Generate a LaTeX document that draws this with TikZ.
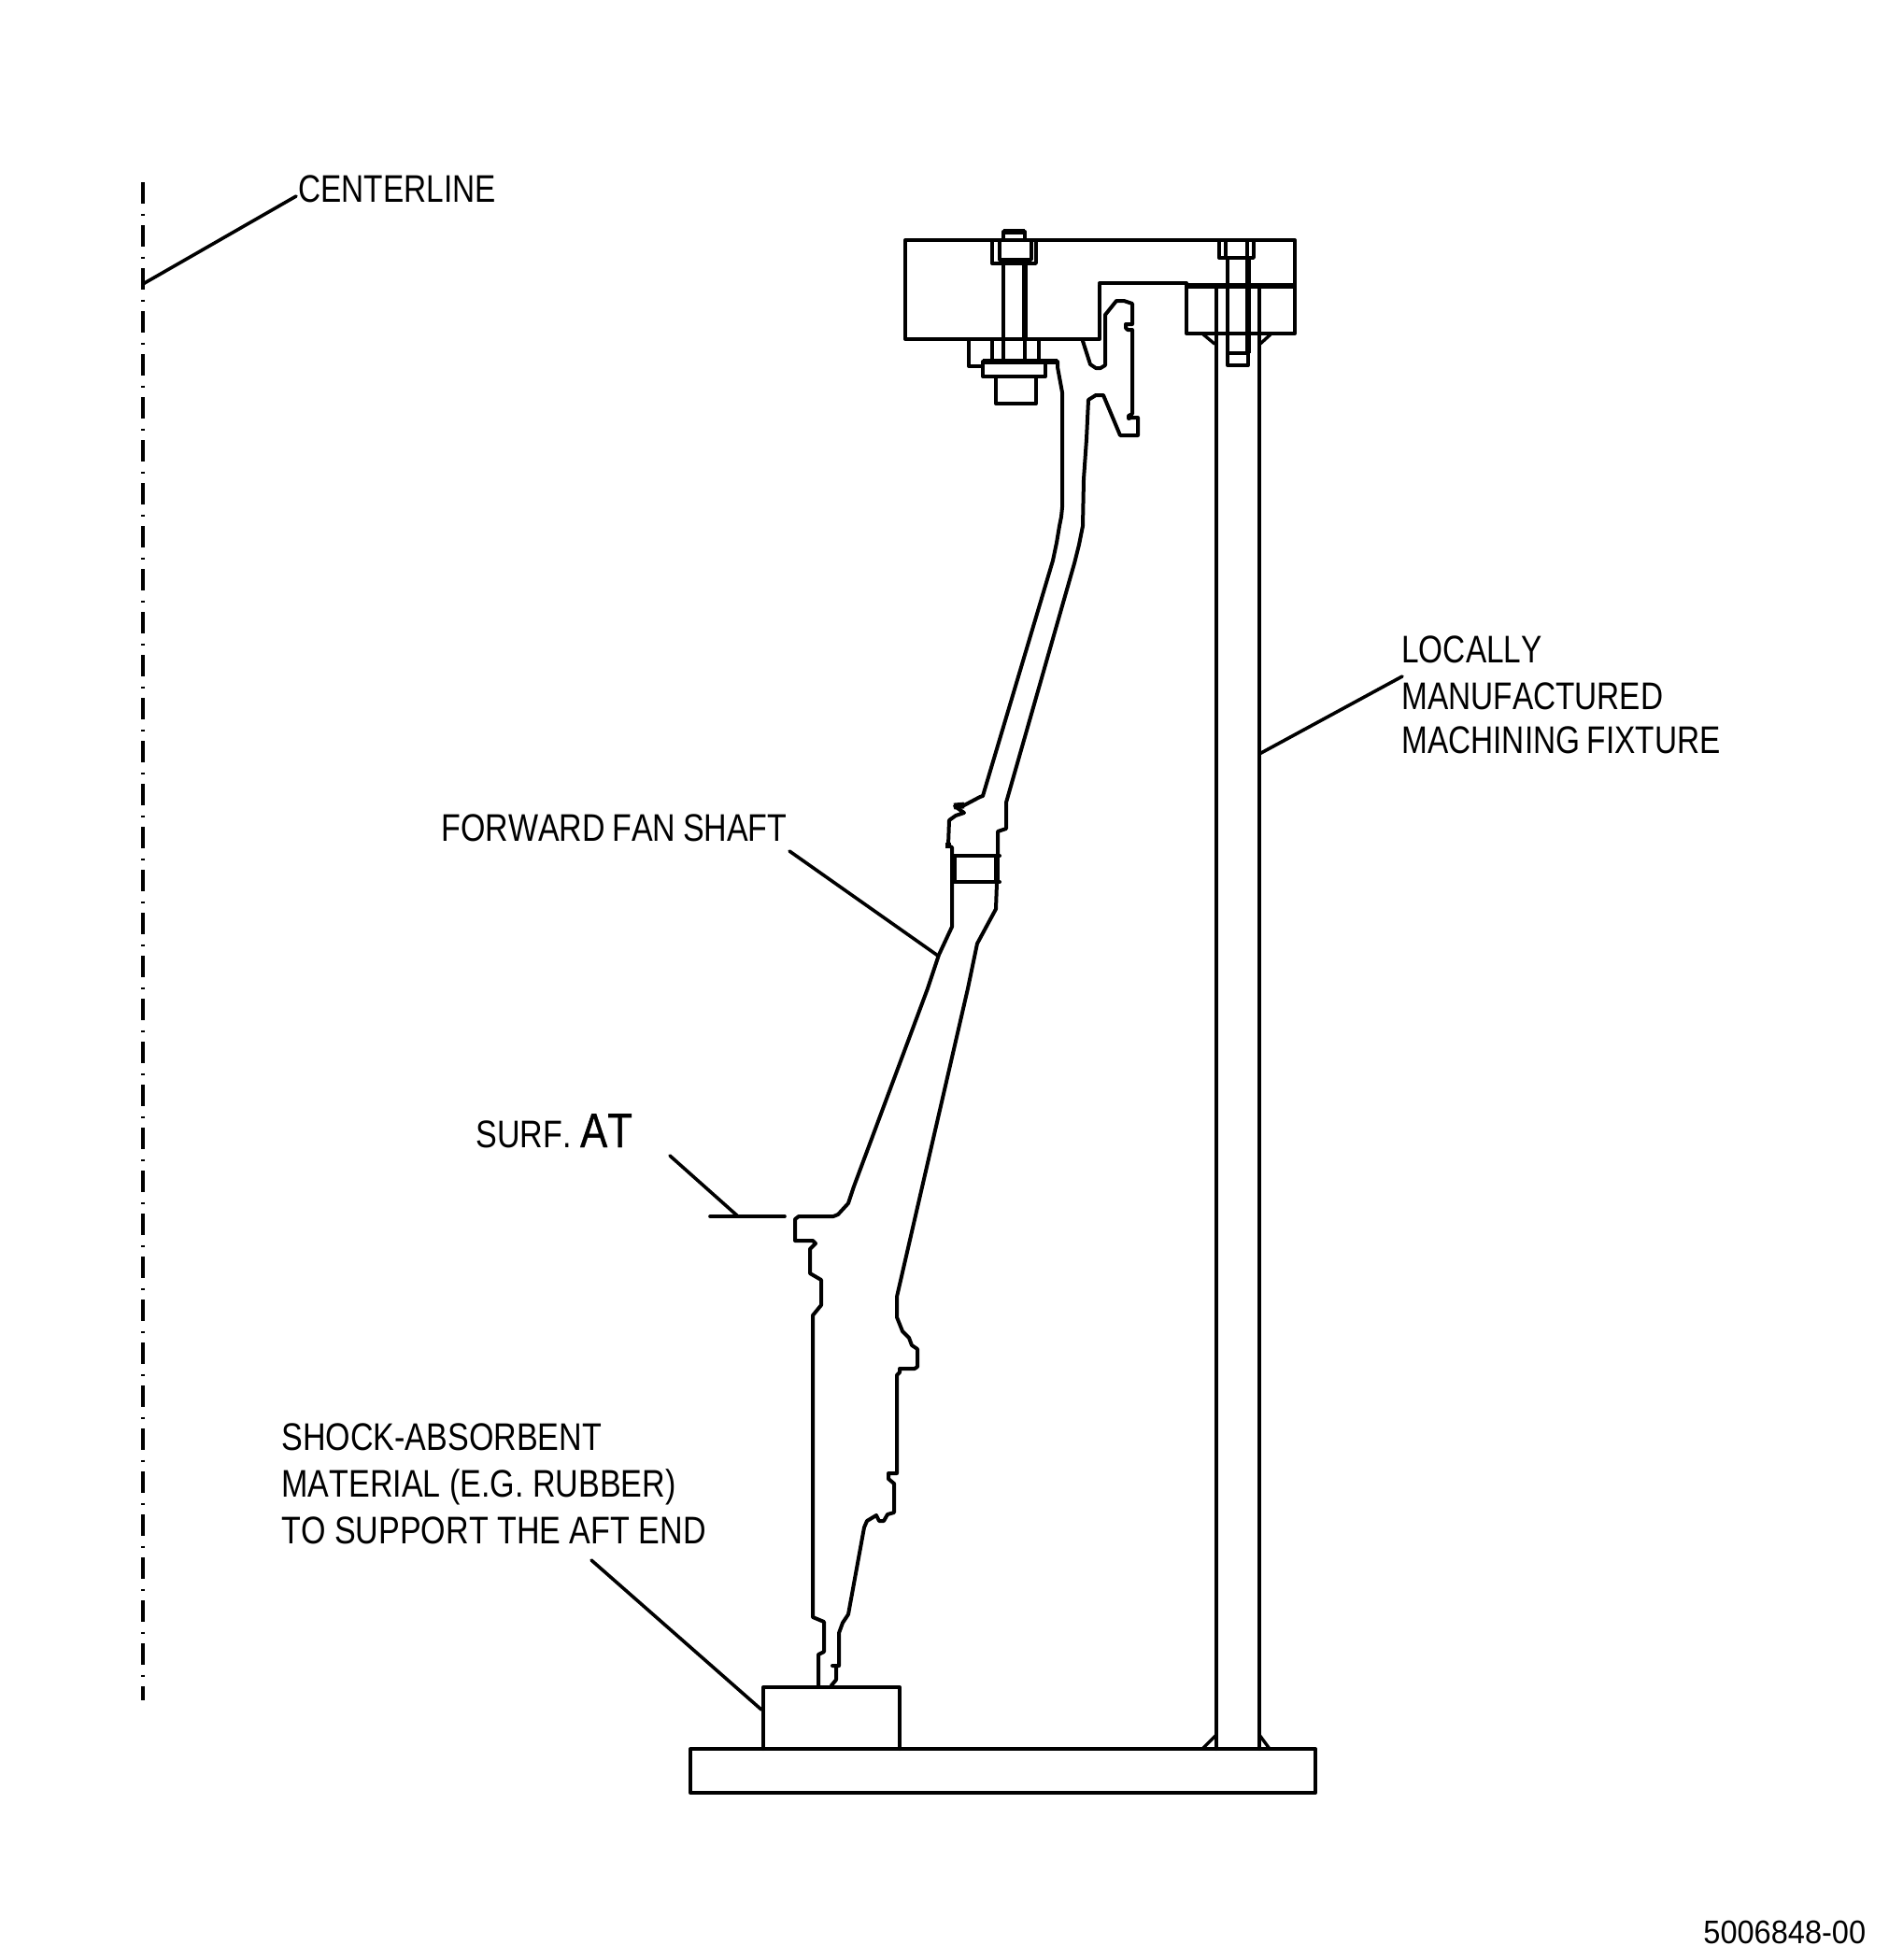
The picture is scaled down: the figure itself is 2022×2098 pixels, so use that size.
\documentclass[tikz,border=0pt]{standalone}
\usepackage{fontspec}
\setmainfont[FakeStretch=0.81,Kerning=Off,WordSpace=0.8]{Liberation Sans}
\newfontfamily\numfont[FakeStretch=0.93]{Liberation Sans}
\newfontfamily\atfont[FakeStretch=0.84,FakeBold=0.8,Kerning=Off]{Liberation Sans}
\newfontfamily\rubfont[FakeStretch=0.827,Kerning=Off,WordSpace=1.0]{Liberation Sans}
\newfontfamily\fanfont[FakeStretch=0.825,Kerning=Off,WordSpace=0.8]{Liberation Sans}
\tikzset{
  part/.style={line width=2pt,line join=round,line cap=round},
  thin part/.style={line width=1.7pt,line join=round,line cap=round},
  thick part/.style={line width=3.4pt,line cap=butt},
  leader/.style={line width=1.8pt,line cap=round},
  centre/.style={line width=1.6pt,dash pattern=on 11.5pt off 5.25pt on 1pt off 5.25pt},
  label/.style={inner sep=0pt,anchor=north west,align=left,font=\fontsize{20.6}{24.4}\selectfont},
}
\begin{document}
\begin{tikzpicture}[x=0.5pt,y=-0.5pt]
\useasboundingbox (0,0) rectangle (2022,2098);
% centerline
\coordinate (clTop) at (153,195);
\coordinate (clBot) at (153,1820);
\draw[centre] (clTop) -- (clBot);
\coordinate (clHit) at (153,304);
\coordinate (clEnd) at (317,210);
\draw[leader] (clHit) -- (clEnd);
\node[label] (tCenter) at (319,187) {CENTERLINE};
% base plate and support
\draw[part] (739,1872) rectangle (1408,1919);
\draw[part] (817,1872) -- (817,1806) -- (963,1806) -- (963,1872);
% column
\draw[part] (1302,305) -- (1302,1872);
\draw[part] (1348,305) -- (1348,1872);
\draw[thin part] (1287,1872) -- (1302,1857);
\draw[thin part] (1348,1857) -- (1359,1872);
% top fixture
\draw[part] (1177,305) -- (1177,363) -- (969,363) -- (969,257) -- (1386,257) -- (1386,357) -- (1270,357) -- (1270,305);
\draw[part] (1177,303) -- (1270,303);
\draw[thick part] (1270,306) -- (1386,306);
\draw[thin part] (1288,358) -- (1300,368);
\draw[thin part] (1360,358) -- (1349,368);
% right bolt
\draw[thin part] (1305,257) -- (1305,276) -- (1342,276) -- (1342,257);
\draw[thin part] (1312,257) -- (1312,276);
\draw[thin part] (1335,257) -- (1335,276);
\draw[part] (1314,276) -- (1314,391) -- (1336,391) -- (1336,276);
\draw[thick part] (1336,276) -- (1336,378);
\draw[thin part] (1314,378) -- (1336,378);
% left bolt
\draw[part] (1074,257) -- (1074,248) -- (1097,248) -- (1097,257);
\draw[thick part] (1074,248) -- (1097,248);
\draw[thin part] (1062,257) -- (1062,282) -- (1109,282) -- (1109,257);
\draw[thin part] (1070,257) -- (1070,278) -- (1104,278) -- (1104,257);
\draw[part] (1074,278) -- (1074,387);
\draw[thick part] (1097,278) -- (1097,363);
\draw[part] (1097,363) -- (1097,387);
% nut and washer
\draw[part] (1037,363) -- (1037,392) -- (1052,392);
\draw[thin part] (1062,363) -- (1062,387);
\draw[thin part] (1112,363) -- (1112,387);
\draw[part] (1052,387) rectangle (1119,403);
\draw[thick part] (1052,387) -- (1132,387);
\draw[part] (1066,403) -- (1066,432) -- (1109,432) -- (1109,403);
% shaft
\draw[part] (1132,387) -- (1132,393) -- (1137,420) -- (1137,543) -- (1136,553) -- (1134,563) -- (1131,581) -- (1127,600)
  -- (1052,852) -- (1049,853) -- (1032,862) -- (1022,863) -- (1032,870) -- (1023,873) -- (1016,878)
  -- (1015,905) -- (1019,907) -- (1019,992) -- (1005,1022) -- (993,1058)
  -- (914,1270) -- (908,1288) -- (897,1300) -- (892,1302) -- (855,1302) -- (851,1305) -- (851,1328)
  -- (870,1328) -- (873,1331) -- (867,1337) -- (867,1363) -- (879,1370) -- (879,1397) -- (870,1408)
  -- (870,1731) -- (882,1736) -- (882,1768) -- (876,1771) -- (876,1805);
\draw[thick part] (1021,863) -- (1032,862);
\fill (1012,902) rectangle (1018,908);
\draw[part] (1159,365) -- (1167,390) -- (1173,394) -- (1178,394) -- (1183,391) -- (1183,337)
  -- (1195,322) -- (1203,322) -- (1212,325) -- (1212,347) -- (1205,347) -- (1205,351) -- (1207,353)
  -- (1212,353) -- (1212,443) -- (1208,445) -- (1208,448) -- (1211,447) -- (1218,447) -- (1218,466)
  -- (1199,466) -- (1181,423) -- (1173,423) -- (1165,428) -- (1163,470) -- (1160,513) -- (1159,563)
  -- (1155,583) -- (1150,603) -- (1077,859) -- (1077,887) -- (1068,890) -- (1068,917) -- (1066,973) -- (1046,1010)
  -- (1036,1058) -- (960,1388) -- (960,1410) -- (966,1425) -- (973,1432) -- (976,1440) -- (982,1444)
  -- (982,1463) -- (979,1465) -- (963,1465) -- (963,1469) -- (960,1472) -- (960,1577) -- (951,1577)
  -- (951,1583) -- (957,1588) -- (957,1619) -- (950,1621) -- (946,1628) -- (941,1628) -- (938,1622)
  -- (928,1628) -- (925,1635) -- (908,1728) -- (902,1737) -- (898,1748) -- (898,1783) -- (891,1783);
\draw[part] (895,1783) -- (895,1798) -- (890,1804);
% collar
\draw[part] (1019,916) -- (1070,916);
\draw[part] (1019,944) -- (1070,944);
\draw[thick part] (1021,916) -- (1021,944);
\draw[thick part] (1067,916) -- (1067,944);
% leaders and labels
\coordinate (fixHit) at (1348,807);
\coordinate (fixEnd) at (1501,724);
\draw[leader] (fixHit) -- (fixEnd);
\node[label] (tFix) at (1500,680) {LOCALLY\\[0.7pt]MANUFACTURED\\[-0.7pt]MACHINING FIXTURE};
\coordinate (fanEnd) at (845,911);
\coordinate (fanHit) at (1004,1023);
\draw[leader] (fanEnd) -- (fanHit);
\node[label,font=\fanfont\fontsize{20.6}{25}\selectfont] (tFan) at (472,871) {FORWARD FAN SHAFT};
\coordinate (atA) at (717,1237);
\coordinate (atB) at (790,1302);
\coordinate (atC) at (760,1302);
\coordinate (atD) at (840,1302);
\draw[leader] (atA) -- (atB);
\draw[leader] (atC) -- (atD);
\node[inner sep=0pt,anchor=base west,font=\rubfont\fontsize{20.6}{25}\selectfont] (tSurf) at (509,1228) {SURF. {\atfont\fontsize{26}{30}\selectfont AT}};
\coordinate (rubEnd) at (633,1670);
\coordinate (rubHit) at (815,1830);
\draw[leader] (rubEnd) -- (rubHit);
\node[label,font=\rubfont\fontsize{20.6}{25}\selectfont] (tRub) at (301,1523) {SHOCK-ABSORBENT\\MATERIAL (E.G. RUBBER)\\TO SUPPORT THE AFT END};
\node[inner sep=0pt,anchor=base west,font=\numfont\fontsize{17.5}{20}\selectfont] (tNum) at (1823,2080) {5006848-00};
\end{tikzpicture}
\end{document}
